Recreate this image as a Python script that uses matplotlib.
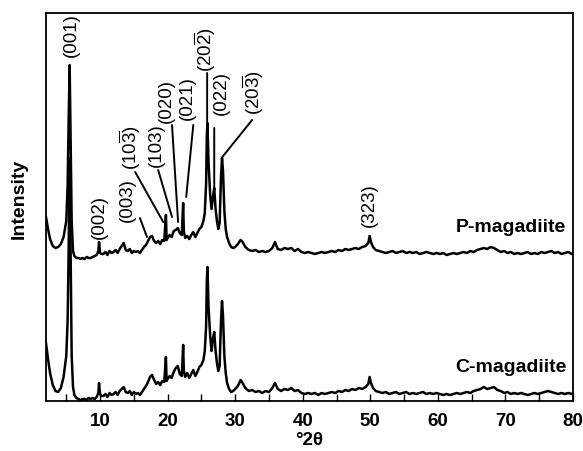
import matplotlib
matplotlib.use("Agg")
import matplotlib.pyplot as plt
from matplotlib.ticker import MultipleLocator

plt.rcParams['font.family'] = ['Liberation Sans', 'DejaVu Sans']
plt.rcParams['mathtext.fontset'] = 'custom'
plt.rcParams['mathtext.rm'] = 'Liberation Sans'
plt.rcParams['mathtext.it'] = 'Liberation Sans'
plt.rcParams['mathtext.bf'] = 'Liberation Sans:bold'

# 2-theta grid (degrees)
two_theta = [
    2.0, 2.3, 2.6, 3.0, 3.4, 3.8, 4.2, 4.6, 5.0, 5.2, 5.35, 5.5, 5.65, 5.8, 6.0, 6.2, 6.5,
    6.8, 7.1, 7.4, 7.7, 8.0, 8.3, 8.6, 8.9, 9.2, 9.5, 9.75, 9.85, 10.0, 10.2,
    10.5, 10.8, 11.1, 11.4, 11.7, 12.0, 12.3, 12.6, 12.9, 13.2, 13.5, 13.8, 14.1, 14.4, 14.7,
    15.0, 15.3, 15.6, 15.9, 16.2, 16.5,
    16.8, 17.1, 17.4, 17.7, 18.0, 18.3, 18.6, 18.9, 19.2, 19.5, 19.75, 19.85, 20.0, 20.3,
    20.6, 20.9, 21.2, 21.5, 21.8, 22.1, 22.3, 22.4, 22.6, 22.9, 23.2, 23.5, 23.8, 24.1,
    24.4, 24.7, 25.0, 25.3,
    25.5, 25.7, 25.8, 25.9, 26.05, 26.3, 26.5, 26.7, 26.9, 27.1, 27.3, 27.5, 27.7, 27.9,
    28.05, 28.2, 28.4, 28.6, 28.8, 29.1, 29.4,
    29.7, 30.0, 30.4, 30.8, 31.1, 31.5, 32.0, 32.5, 33.0, 33.5, 34.0, 34.5, 35.0, 35.5,
    35.9, 36.3, 36.8, 37.3, 37.8, 38.3, 38.8, 39.3, 39.8, 40.3, 40.8, 41.3, 41.8, 42.3,
    42.8, 43.3, 43.8, 44.3, 44.8, 45.3, 45.8, 46.3, 46.8, 47.3, 47.8, 48.3, 48.8, 49.3,
    49.7, 49.9, 50.1, 50.4, 50.8,
    51.3, 51.8, 52.3, 52.8, 53.3, 53.8, 54.3, 54.8, 55.3, 55.8, 56.3, 56.8, 57.3, 57.8,
    58.3, 58.8, 59.3, 59.8, 60.3, 60.8, 61.3, 61.8, 62.3, 62.8, 63.3, 63.8, 64.3, 64.8,
    65.3, 65.8, 66.3, 66.8, 67.3, 67.8, 68.3, 68.8, 69.3, 69.8, 70.3, 70.8, 71.3, 71.8,
    72.3, 72.8, 73.3, 73.8, 74.3, 74.8, 75.3, 75.8, 76.3, 76.8, 77.3, 77.8, 78.3, 78.8,
    79.3, 79.8, 80.0,
]

# intensities (a.u.)
c_magadiite = [
    58, 42, 28, 16, 10, 9, 13, 24, 45, 80, 150, 242, 140, 45, 14, 6, 3,
    2, 1, 2, 2, 1, 3, 2, 3, 2, 4, 8, 18, 7, 5,
    5, 7, 4, 8, 6, 7, 9, 6, 10, 12, 14, 9, 8, 10, 6,
    9, 7, 8, 6, 9, 12,
    15, 19, 24, 26, 21, 17, 19, 16, 20, 19, 44, 20, 22, 25,
    23, 29, 33, 35, 27, 25, 56, 30, 24, 28, 23, 27, 31, 25,
    29, 34, 36, 41,
    50, 75, 120, 134, 95, 65, 50, 62, 69, 50, 38, 30, 35, 80,
    100, 85, 45, 28, 18, 12, 9,
    10, 12, 15, 21, 18, 13, 10, 11, 9, 10, 8, 10, 9, 13,
    18, 12, 10, 12, 11, 13, 10, 11, 8, 7, 8, 7, 8, 6,
    8, 7, 8, 9, 8, 10, 9, 11, 10, 12, 11, 13, 12, 14,
    17, 24, 18, 13, 10,
    9, 8, 9, 7, 8, 9, 7, 8, 9, 7, 8, 7, 8, 9,
    7, 8, 7, 8, 7, 6, 7, 6, 7, 8, 7, 8, 9, 8,
    10, 11, 12, 14, 12, 13, 14, 11, 10, 8, 9, 7, 8, 7,
    8, 7, 6, 7, 8, 7, 8, 9, 10, 9, 8, 7, 8, 7,
    8, 7, 8,
]

p_magadiite = [
    44, 32, 22, 15, 13, 14, 17, 24, 40, 75, 140, 196, 120, 40, 10, 5, 3,
    3, 2, 3, 2, 4, 3, 3, 4, 5, 6, 10, 19, 8, 7,
    7, 9, 6, 10, 8, 9, 11, 8, 12, 15, 18, 11, 10, 12, 8,
    10, 9, 10, 8, 11, 14,
    16, 20, 24, 25, 20, 18, 20, 17, 21, 20, 46, 21, 23, 26,
    24, 30, 31, 33, 28, 26, 58, 30, 23, 25, 22, 26, 29, 24,
    28, 32, 34, 40,
    48, 78, 125, 138, 100, 66, 52, 64, 73, 52, 40, 32, 38, 84,
    103, 90, 50, 32, 24, 18, 14,
    13, 14, 17, 21, 19, 14, 11, 10, 11, 9, 10, 9, 10, 13,
    19, 12, 11, 13, 12, 13, 10, 12, 9, 8, 9, 8, 7, 8,
    9, 8, 9, 10, 9, 11, 10, 12, 11, 12, 13, 12, 14, 15,
    18, 25, 19, 14, 11,
    10, 9, 8, 9, 10, 8, 9, 10, 8, 9, 8, 9, 7, 8,
    9, 8, 7, 8, 7, 8, 6, 7, 8, 7, 8, 9, 8, 10,
    9, 11, 12, 13, 12, 14, 13, 11, 9, 10, 8, 9, 7, 8,
    7, 8, 9, 7, 8, 7, 9, 8, 9, 10, 8, 9, 7, 8,
    9, 7, 8,
]

assert len(two_theta) == len(c_magadiite) == len(p_magadiite)

p_offset = 140  # vertical stacking of the P-magadiite trace

# hkl labels: text, text x (2theta), text bottom (a.u.), leader line start/end (or None)
hkl_labels = [
    ('(001)', 5.75, 344, None),
    ('(002)', 9.85, 162, None),
    ('(003)', 14.1, 179, ((15.9, 183), (16.95, 164))),
    ('(10$\\overline{3}$)', 14.4, 231, ((15.2, 229), (19.35, 179))),
    ('(103)', 18.4, 234, ((18.6, 231), (20.65, 184))),
    ('(020)', 19.8, 278, ((20.65, 276), (21.55, 179))),
    ('(021)', 22.9, 281, ((23.8, 276), (22.75, 204))),
    ('(20$\\overline{2}$)', 25.6, 329, ((25.85, 328), (25.85, 278))),
    ('(022)', 27.9, 286, ((26.9, 273), (26.9, 213))),
    ('(20$\\overline{3}$)', 32.7, 286, ((32.5, 281), (28.1, 244))),
    ('(323)', 49.85, 174, None),
]

fig = plt.figure(figsize=(5.83, 4.51), dpi=100)
ax = fig.add_axes([46 / 583, 1 - 401 / 451, 527 / 583, 388 / 451])

ax.plot(two_theta, c_magadiite, color='black', lw=1.8)
ax.plot(two_theta, [v + p_offset for v in p_magadiite], color='black', lw=1.8)

for txt, tx, ty, leader in hkl_labels:
    ax.text(tx, ty, txt, rotation=90, ha='center', va='bottom', fontsize=13.5)
    if leader is not None:
        ax.annotate('', xy=leader[1], xytext=leader[0],
                    arrowprops=dict(arrowstyle='-', color='black', lw=1.4,
                                    shrinkA=0, shrinkB=0))

ax.text(79.0, 173, 'P-magadiite', ha='right', va='center', fontsize=14, fontweight='bold')
ax.text(79.0, 33, 'C-magadiite', ha='right', va='center', fontsize=14, fontweight='bold')

ax.set_xlim(2, 80)
ax.set_ylim(0, 388)
ax.xaxis.set_major_locator(MultipleLocator(10))
ax.xaxis.set_minor_locator(MultipleLocator(5))
ax.tick_params(axis='x', which='both', direction='in', length=5, width=1, pad=9,
               labelsize=13.5, top=False)
for lbl in ax.get_xticklabels():
    lbl.set_fontweight('bold')
ax.set_yticks([])
for s in ax.spines.values():
    s.set_linewidth(1.3)

ax.set_xlabel('°2θ', fontsize=13.5, fontweight='bold', labelpad=1)
ax.text(-0.051, 0.52, 'Intensity', transform=ax.transAxes, rotation=90,
        ha='center', va='center', fontsize=14, fontweight='bold')

fig.savefig('out.png', dpi=100)
